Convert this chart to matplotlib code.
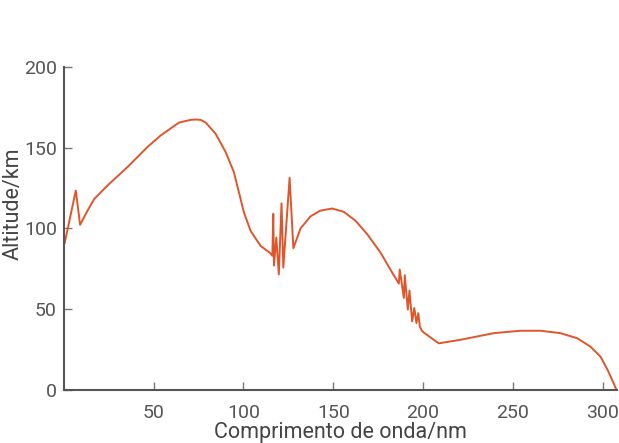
import matplotlib.pyplot as plt
import numpy as np

# comprimento de onda (nm) e altitude (km)
onda = np.array([0.5, 1.1, 6.7, 9.1, 13.2, 16.9, 24.3, 35.4, 46.6, 54.0, 64.1,
                 70.6, 73.4, 76.2, 79.0, 84.5, 90.1, 94.7, 97.5, 100.3, 104.0,
                 109.6, 115.1,
                 116.1, 116.6, 117.0, 118.3, 119.7, 121.2, 122.2, 125.7, 127.8,
                 131.8, 137.4, 142.9, 149.4, 155.9, 162.4, 168.9, 176.3, 182.8,
                 186.5,
                 187.0, 189.3, 189.8, 191.5, 192.4, 193.9, 195.1, 196.3, 197.3,
                 198.2, 199.1, 200.1, 208.7, 220.8, 239.3, 254.2, 265.3, 276.4,
                 285.7, 293.1, 298.7, 302.7, 306.1, 307.6])
altitude = np.array([91, 94, 123.4, 102.2, 110.9, 118.1, 126.5, 137.9, 150.4, 157.6, 165.5,
                     167.2, 167.4, 167.2, 165.5, 158.6, 147.3, 134.8, 122.3, 109.8, 98.4,
                     89.1, 84.5,
                     83, 109, 77, 94.3, 71.5, 115.5, 75.7, 131.3, 87.7,
                     100, 107.5, 111, 112.3, 110.2, 104.7, 96.4, 85, 72.6,
                     65.8,
                     74.5, 56.9, 71, 49.7, 61.5, 42.4, 50.7, 41.3, 47.5,
                     39.3, 36.8, 35.7, 28.8, 31, 35.1, 36.6, 36.6, 35.1,
                     32, 26.8, 20.6, 12.3, 4, 0])

xticks = [50, 100, 150, 200, 250, 300]
yticks = [0, 50, 100, 150, 200]

plt.rcParams['font.family'] = ['Roboto', 'DejaVu Sans']

fig = plt.figure(figsize=(6.19, 4.43), dpi=100)
ax = fig.add_axes([0.103, 0.12, 0.894, 0.729])

ax.plot(onda, altitude, color='#e0552a', linewidth=1.4)

ax.set_xlim(0, 308)
ax.set_ylim(0, 200)
ax.set_xticks(xticks)
ax.set_yticks(yticks)
ax.tick_params(direction='in', length=6, width=1, color='#777777',
               labelcolor='#555555', labelsize=14)
ax.tick_params(axis='x', pad=10)
ax.tick_params(axis='y', pad=5)

for s in ['top', 'right']:
    ax.spines[s].set_visible(False)
for s in ['left', 'bottom']:
    ax.spines[s].set_color('#555555')
    ax.spines[s].set_linewidth(1.5)

ax.set_xlabel('Comprimento de onda/nm', fontsize=15.5, color='#444444', labelpad=0)
ax.set_ylabel('Altitude/km', fontsize=15.5, color='#444444')
ax.yaxis.set_label_coords(-0.073, 0.575)

fig.savefig('out.png', dpi=100)
